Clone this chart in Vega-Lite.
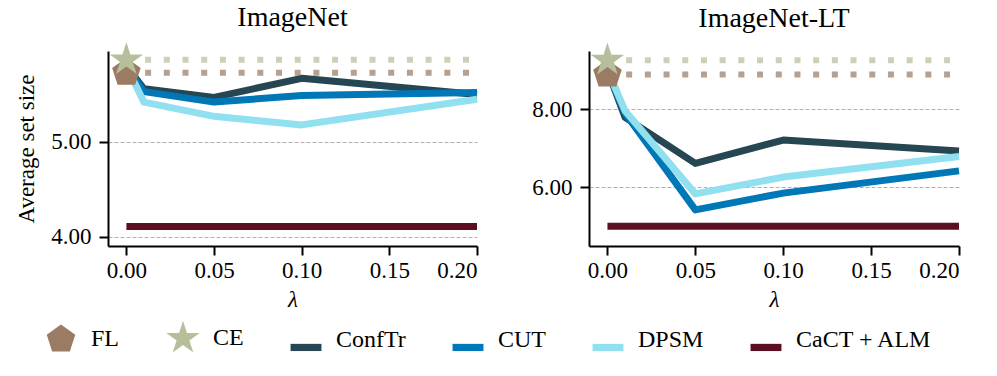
{
  "$schema": "https://vega.github.io/schema/vega-lite/v6.json",
  "autosize": {"type": "pad"},
  "padding": {"left": 15, "top": 4, "right": 5, "bottom": 5},
  "background": "white",
  "datasets": {
    "series": [
      {"ds": "ImageNet", "method": "ConfTr", "lam": 0, "val": 5.80},
      {"ds": "ImageNet", "method": "ConfTr", "lam": 0.01, "val": 5.56},
      {"ds": "ImageNet", "method": "ConfTr", "lam": 0.05, "val": 5.47},
      {"ds": "ImageNet", "method": "ConfTr", "lam": 0.1, "val": 5.67},
      {"ds": "ImageNet", "method": "ConfTr", "lam": 0.2, "val": 5.50},
      {"ds": "ImageNet", "method": "CUT", "lam": 0, "val": 5.80},
      {"ds": "ImageNet", "method": "CUT", "lam": 0.01, "val": 5.53},
      {"ds": "ImageNet", "method": "CUT", "lam": 0.05, "val": 5.42},
      {"ds": "ImageNet", "method": "CUT", "lam": 0.1, "val": 5.49},
      {"ds": "ImageNet", "method": "CUT", "lam": 0.2, "val": 5.52},
      {"ds": "ImageNet", "method": "DPSM", "lam": 0, "val": 5.80},
      {"ds": "ImageNet", "method": "DPSM", "lam": 0.01, "val": 5.42},
      {"ds": "ImageNet", "method": "DPSM", "lam": 0.05, "val": 5.27},
      {"ds": "ImageNet", "method": "DPSM", "lam": 0.1, "val": 5.18},
      {"ds": "ImageNet", "method": "DPSM", "lam": 0.2, "val": 5.45},
      {"ds": "ImageNet", "method": "CaCT + ALM", "lam": 0, "val": 4.11},
      {"ds": "ImageNet", "method": "CaCT + ALM", "lam": 0.01, "val": 4.11},
      {"ds": "ImageNet", "method": "CaCT + ALM", "lam": 0.05, "val": 4.11},
      {"ds": "ImageNet", "method": "CaCT + ALM", "lam": 0.1, "val": 4.11},
      {"ds": "ImageNet", "method": "CaCT + ALM", "lam": 0.2, "val": 4.11},
      {"ds": "ImageNet-LT", "method": "ConfTr", "lam": 0, "val": 9.0},
      {"ds": "ImageNet-LT", "method": "ConfTr", "lam": 0.01, "val": 7.79},
      {"ds": "ImageNet-LT", "method": "ConfTr", "lam": 0.05, "val": 6.61},
      {"ds": "ImageNet-LT", "method": "ConfTr", "lam": 0.1, "val": 7.21},
      {"ds": "ImageNet-LT", "method": "ConfTr", "lam": 0.2, "val": 6.93},
      {"ds": "ImageNet-LT", "method": "CUT", "lam": 0, "val": 9.0},
      {"ds": "ImageNet-LT", "method": "CUT", "lam": 0.01, "val": 7.9},
      {"ds": "ImageNet-LT", "method": "CUT", "lam": 0.05, "val": 5.42},
      {"ds": "ImageNet-LT", "method": "CUT", "lam": 0.1, "val": 5.85},
      {"ds": "ImageNet-LT", "method": "CUT", "lam": 0.2, "val": 6.42},
      {"ds": "ImageNet-LT", "method": "DPSM", "lam": 0, "val": 9.0},
      {"ds": "ImageNet-LT", "method": "DPSM", "lam": 0.01, "val": 7.96},
      {"ds": "ImageNet-LT", "method": "DPSM", "lam": 0.05, "val": 5.83},
      {"ds": "ImageNet-LT", "method": "DPSM", "lam": 0.1, "val": 6.26},
      {"ds": "ImageNet-LT", "method": "DPSM", "lam": 0.2, "val": 6.79},
      {"ds": "ImageNet-LT", "method": "CaCT + ALM", "lam": 0, "val": 5.0},
      {"ds": "ImageNet-LT", "method": "CaCT + ALM", "lam": 0.01, "val": 5.0},
      {"ds": "ImageNet-LT", "method": "CaCT + ALM", "lam": 0.05, "val": 5.0},
      {"ds": "ImageNet-LT", "method": "CaCT + ALM", "lam": 0.1, "val": 5.0},
      {"ds": "ImageNet-LT", "method": "CaCT + ALM", "lam": 0.2, "val": 5.0}
    ],
    "base": [
      {"ds": "ImageNet", "method": "FL", "lam": 0, "val": 5.73},
      {"ds": "ImageNet", "method": "CE", "lam": 0, "val": 5.865},
      {"ds": "ImageNet-LT", "method": "FL", "lam": 0, "val": 8.89},
      {"ds": "ImageNet-LT", "method": "CE", "lam": 0, "val": 9.255}
    ]
  },
  "config": {
    "font": "Liberation Serif",
    "view": {"stroke": null},
    "style": {
      "guide-label": {"font": "Liberation Serif", "fontWeight": "normal"},
      "guide-title": {"font": "Liberation Serif", "fontWeight": "normal"}
    },
    "title": {"fontSize": 28, "fontWeight": "normal", "color": "black", "font": "Liberation Serif", "offset": 10},
    "axis": {
      "labelFont": "Liberation Serif", "labelFontSize": 23, "labelColor": "black", "labelFontWeight": "normal",
      "titleFont": "Liberation Serif", "titleFontSize": 23, "titleFontWeight": "normal", "titleColor": "black",
      "domainColor": "black", "domainWidth": 2, "tickColor": "black", "tickWidth": 2, "tickSize": 9
    }
  },
  "bounds": "flush",
  "spacing": 112,
  "hconcat": [
    {
      "width": 369, "height": 195,
      "title": {"text": "ImageNet"},
      "layer": [
        {
          "data": {"name": "base"},
          "transform": [{"filter": "datum.ds === 'ImageNet'"}],
          "mark": {"type": "rule", "strokeWidth": 6, "strokeDash": [6, 12.7], "opacity": 0.72},
          "encoding": {
            "x": {"datum": 0, "type": "quantitative"},
            "x2": {"datum": 0.2},
            "y": {"field": "val", "type": "quantitative"},
            "stroke": {"field": "method", "type": "nominal", "legend": null,
              "scale": {"domain": ["ConfTr", "CUT", "DPSM", "CaCT + ALM", "FL", "CE"], "range": ["#264653", "#0077b6", "#90e0ef", "#5c0f23", "#9b7b63", "#b6bf9b"]}}
          }
        },
        {
          "data": {"name": "series"},
          "transform": [{"filter": "datum.ds === 'ImageNet'"}],
          "mark": {"type": "line", "strokeWidth": 7, "strokeJoin": "round"},
          "encoding": {
            "x": {"field": "lam", "type": "quantitative", "title": "λ",
              "scale": {"domain": [-0.0105, 0.2], "nice": false, "zero": false},
              "axis": {"values": [0, 0.05, 0.1, 0.15, 0.2], "format": ".2f", "grid": false, "labelPadding": 4, "titleFontStyle": "italic", "titlePadding": 6, "labelFont": "Liberation Serif", "titleFont": "Liberation Serif"}},
            "y": {"field": "val", "type": "quantitative", "title": "Average set size",
              "scale": {"domain": [3.905, 5.958], "nice": false, "zero": false},
              "axis": {"values": [4, 5], "format": ".2f", "grid": true, "gridColor": "#b0b0b0", "gridDash": [4, 2], "gridWidth": 1, "labelPadding": 8, "titlePadding": 12, "labelFont": "Liberation Serif"}},
            "stroke": {"field": "method", "type": "nominal", "legend": null}
          }
        },
        {
          "data": {"name": "base"},
          "transform": [{"filter": "datum.ds === 'ImageNet'"}],
          "mark": {"type": "point", "filled": true, "opacity": 1, "size": 900, "strokeWidth": 0},
          "encoding": {
            "x": {"field": "lam", "type": "quantitative"},
            "y": {"field": "val", "type": "quantitative"},
            "color": {"field": "method", "type": "nominal",
              "legend": {"title": null, "orient": "none", "legendX": -62, "legendY": 272, "direction": "horizontal",
                "labelFont": "Liberation Serif", "labelFontSize": 24, "labelFontWeight": "normal", "labelColor": "black",
                "symbolSize": 900, "symbolStrokeWidth": 0, "symbolOpacity": 1, "labelOffset": 15,
                "columnPadding": 46, "padding": 0},
              "scale": {"domain": ["FL", "CE", "ConfTr", "CUT", "DPSM", "CaCT + ALM"], "range": ["#9b7b63", "#b6bf9b", "#264653", "#0077b6", "#90e0ef", "#5c0f23"]}},
            "shape": {"field": "method", "type": "nominal",
              "legend": {"title": null, "orient": "none", "legendX": -62, "legendY": 272, "direction": "horizontal",
                "labelFont": "Liberation Serif", "labelFontSize": 24, "labelFontWeight": "normal", "labelColor": "black",
                "symbolSize": 900, "symbolStrokeWidth": 0, "symbolOpacity": 1, "labelOffset": 15,
                "columnPadding": 46, "padding": 0},
              "scale": {"domain": ["FL", "CE", "ConfTr", "CUT", "DPSM", "CaCT + ALM"], "range": [
                "M0,-1L0.951,-0.309L0.588,0.809L-0.588,0.809L-0.951,-0.309Z",
                "M0,-1.17L0.263,-0.362L1.113,-0.362L0.425,0.138L0.688,0.947L0,0.447L-0.688,0.947L-0.425,0.138L-1.113,-0.362L-0.263,-0.362Z",
                "M-1.03,0.29L1.03,0.29L1.03,0.77L-1.03,0.77Z",
                "M-1.03,0.29L1.03,0.29L1.03,0.77L-1.03,0.77Z",
                "M-1.03,0.29L1.03,0.29L1.03,0.77L-1.03,0.77Z",
                "M-1.03,0.29L1.03,0.29L1.03,0.77L-1.03,0.77Z"]}}
          }
        }
      ]
    },
    {
      "width": 370, "height": 195,
      "title": {"text": "ImageNet-LT"},
      "layer": [
        {
          "data": {"name": "base"},
          "transform": [{"filter": "datum.ds === 'ImageNet-LT'"}],
          "mark": {"type": "rule", "strokeWidth": 6, "strokeDash": [6, 12.7], "opacity": 0.72},
          "encoding": {
            "x": {"datum": 0, "type": "quantitative"},
            "x2": {"datum": 0.2},
            "y": {"field": "val", "type": "quantitative"},
            "stroke": {"field": "method", "type": "nominal", "legend": null}
          }
        },
        {
          "data": {"name": "series"},
          "transform": [{"filter": "datum.ds === 'ImageNet-LT'"}],
          "mark": {"type": "line", "strokeWidth": 7, "strokeJoin": "round"},
          "encoding": {
            "x": {"field": "lam", "type": "quantitative", "title": "λ",
              "scale": {"domain": [-0.0105, 0.2], "nice": false, "zero": false},
              "axis": {"values": [0, 0.05, 0.1, 0.15, 0.2], "format": ".2f", "grid": false, "labelPadding": 4, "titleFontStyle": "italic", "titlePadding": 6, "labelFont": "Liberation Serif", "titleFont": "Liberation Serif"}},
            "y": {"field": "val", "type": "quantitative", "title": null,
              "scale": {"domain": [4.495, 9.49], "nice": false, "zero": false},
              "axis": {"values": [6, 8], "format": ".2f", "grid": true, "gridColor": "#b0b0b0", "gridDash": [4, 2], "gridWidth": 1, "labelPadding": 8, "labelFont": "Liberation Serif"}},
            "stroke": {"field": "method", "type": "nominal", "legend": null}
          }
        },
        {
          "data": {"name": "base"},
          "transform": [{"filter": "datum.ds === 'ImageNet-LT'"}],
          "mark": {"type": "point", "filled": true, "opacity": 1, "size": 900, "strokeWidth": 0},
          "encoding": {
            "x": {"field": "lam", "type": "quantitative"},
            "y": {"field": "val", "type": "quantitative"},
            "color": {"field": "method", "type": "nominal"},
            "shape": {"field": "method", "type": "nominal"}
          }
        }
      ]
    }
  ]
}
